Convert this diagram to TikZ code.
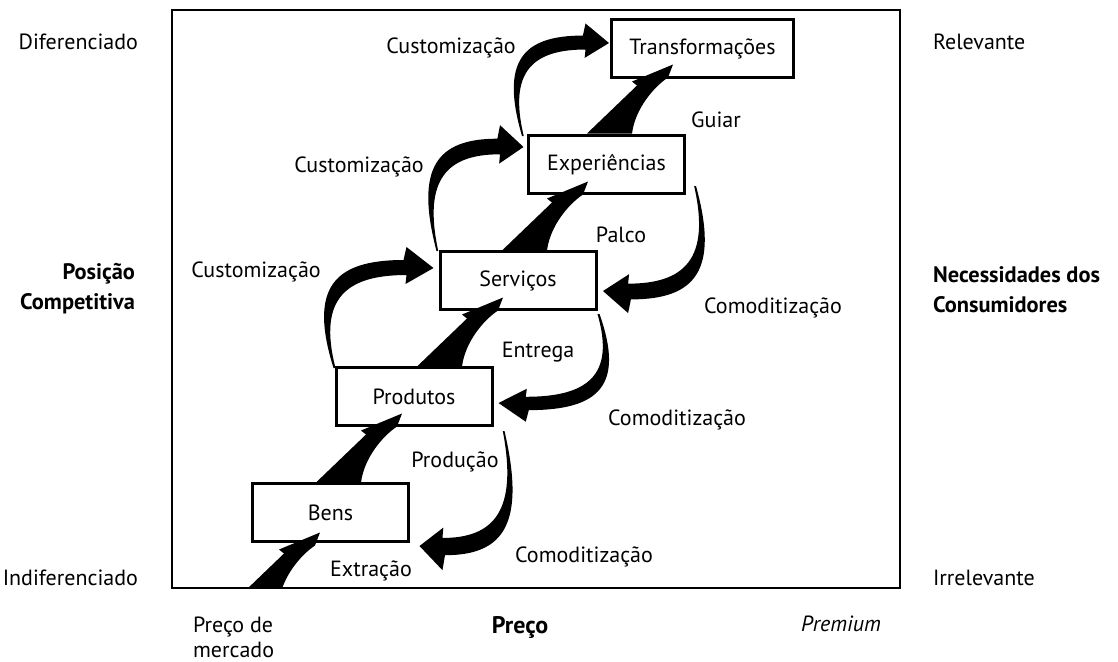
\documentclass[tikz,border=0pt]{standalone}
\usepackage{fontspec}
\setmainfont{PT Sans}
\usetikzlibrary{calc,positioning}

\begin{document}
\begin{tikzpicture}[
  x=0.5pt, y=-0.5pt,
  every node/.style={
    font=\fontsize{11}{12.5}\selectfont,
    text=black
  },
  stage/.style={
    draw=black,
    line width=1.5pt,
    rectangle,
    fill=white,
    align=center,
    inner sep=0pt,
    minimum width=78pt,
    minimum height=29pt
  },
  axislabel/.style={
    font=\fontsize{11.2}{15}\selectfont\bfseries
  },
  riser/.pic={
    \fill (-86,69) -- (-36,21) -- (-41,17) -- (0,0) -- (-5,13)
      .. controls (-20,23) and (-38,45) .. (-41,69) -- cycle;
  },
  swoop/.pic={
    \fill (0,0) .. controls (-25,-80) and (0,-108) .. (70,-108)
      -- (73,-121) -- (100,-100) -- (72,-84) -- (73,-93)
      .. controls (13,-93) and (-16,-70) .. (2,0) -- cycle;
  }
]
  \useasboundingbox (0,0) rectangle (1118,661);
  \draw[line width=1pt] (172,10) rectangle (900,588);

  \node[stage] (bens) at (330.5,512.5) {Bens};
  \node[stage, above=27.5pt of bens, xshift=41.75pt] (produtos) {Produtos};
  \node[stage, above=27.5pt of produtos, xshift=52pt] (servicos) {Serviços};
  \node[stage, above=27.5pt of servicos, xshift=44.25pt] (experiencias)
    {Experiências};
  \node[stage, above=27.5pt of experiencias, xshift=48pt,
    minimum width=91pt] (transf) {Transformações};

  \begin{scope}
    \clip (172,10) rectangle (900,588);
    \pic at ($(bens.south)+(-10.5,-10.5)$) {riser};
    \pic at ($(produtos.south)+(-12,-13.5)$) {riser};
    \pic at ($(servicos.south)+(-15,-13.5)$) {riser};
    \pic at ($(experiencias.south)+(-18.5,-13.5)$) {riser};
    \pic at ($(transf.south)+(-29.5,-14.5)$) {riser};
  \end{scope}

  \pic at ($(produtos.north west)+(-1,2)$) {swoop};
  \pic[xscale=.87, yscale=1.04] at ($(servicos.north west)+(-2,1)$) {swoop};
  \pic[xscale=.87, yscale=.93] at ($(experiencias.north west)+(-5,2)$) {swoop};
  \pic[rotate=180, xscale=.93, yscale=1.05]
    at ($(experiencias.south east)+(10,-9)$) {swoop};
  \pic[rotate=180, xscale=1.01, yscale=.89]
    at ($(servicos.south east)+(2,3)$) {swoop};
  \pic[rotate=180, xscale=.85, yscale=1.15]
    at ($(produtos.south east)+(11,4)$) {swoop};

  \node (custtop) at (451,48) {Customização};
  \node (custmid) at (359,167) {Customização};
  \node (custlow) at (256,272) {Customização};
  \node (guiar) at (716,120) {Guiar};
  \node (palco) at (621,235) {Palco};
  \node (entrega) at (538,352) {Entrega};
  \node (producao) at (455,462) {Produção};
  \node (extracao) at (371,571) {Extração};
  \node (comtop) at (773,308) {Comoditização};
  \node (commid) at (677,420) {Comoditização};
  \node (comlow) at (584,557) {Comoditização};

  \node[anchor=east] (dif) at (145,42) {Diferenciado};
  \node[anchor=east, axislabel, align=right] (posicao) at (142,289)
    {Posição\\Competitiva};
  \node[anchor=east] (indif) at (145,578) {Indiferenciado};
  \node[anchor=west] (relev) at (926,42) {Relevante};
  \node[anchor=west, axislabel, align=left] (necess) at (926,290)
    {Necessidades dos\\Consumidores};
  \node[anchor=west] (irrelev) at (926,578) {Irrelevante};
  \node[anchor=west, align=left] (mercado) at (186,637) {Preço de\\mercado};
  \node[font=\fontsize{12}{15}\selectfont\bfseries] (preco) at (520,627)
    {Preço};
  \node[font=\fontsize{11}{12.5}\selectfont\itshape] (premium) at (841,624)
    {Premium};
\end{tikzpicture}
\end{document}
